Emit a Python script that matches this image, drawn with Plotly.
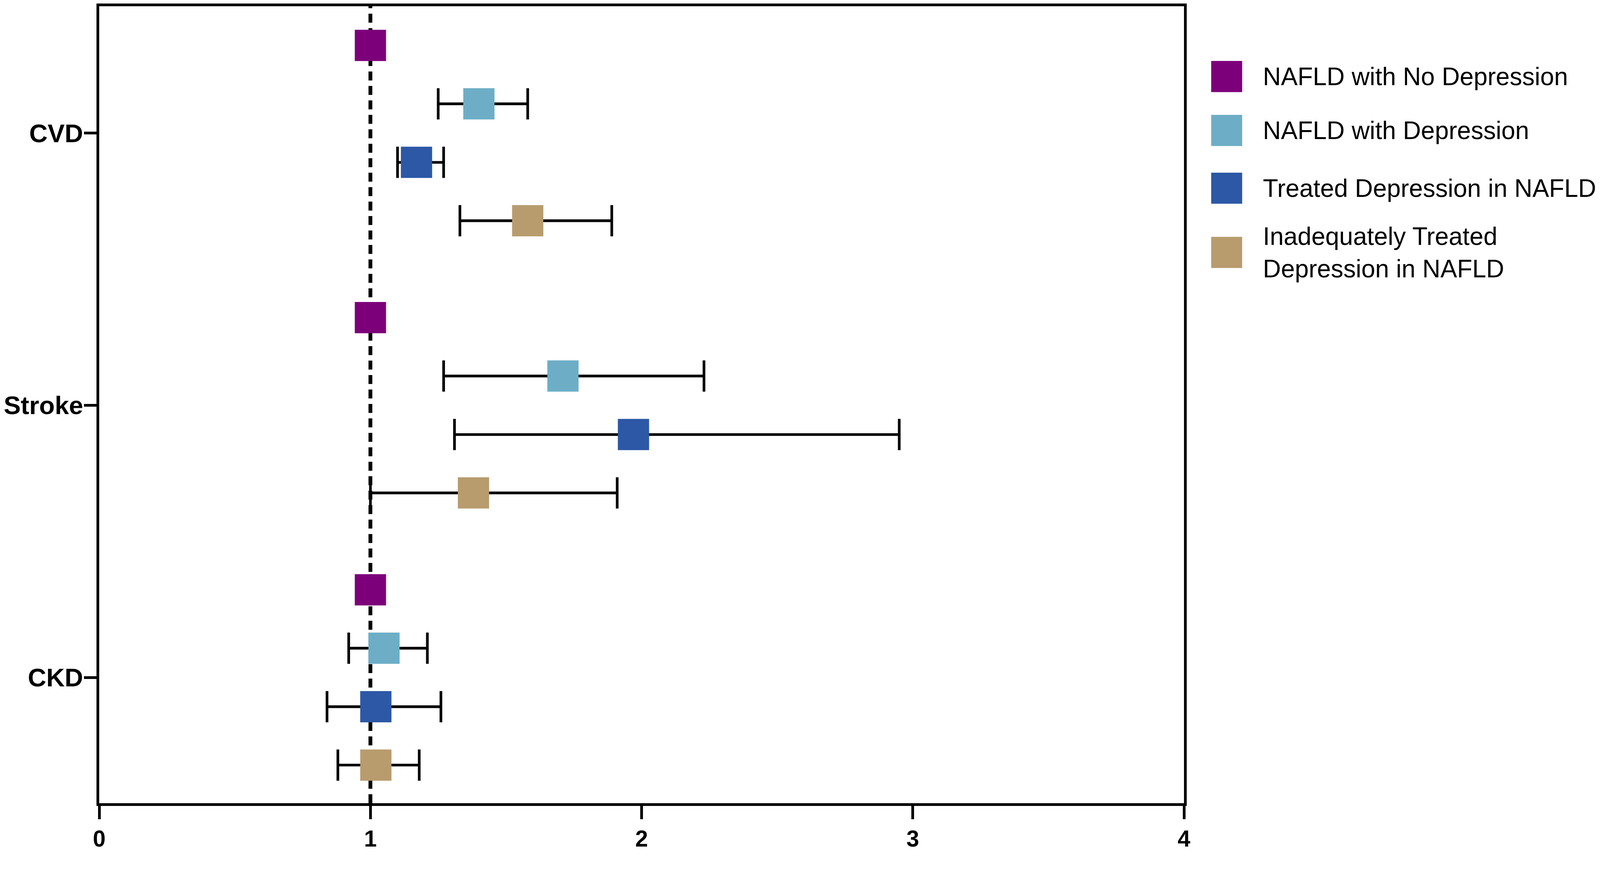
import plotly.graph_objects as go

# outcomes (top to bottom) and groups
outcomes = ["CVD", "Stroke", "CKD"]
groups = [
    "NAFLD with No Depression",
    "NAFLD with Depression",
    "Treated Depression in NAFLD",
    "Inadequately Treated<br>Depression in NAFLD",
]
colors = ["#7d007b", "#6daec6", "#2c58a6", "#b89c6e"]

# hazard ratio and 95% CI per group, one value per outcome (CVD, Stroke, CKD)
hr_no_dep = [1.00, 1.00, 1.00]
lo_no_dep = [1.00, 1.00, 1.00]
hi_no_dep = [1.00, 1.00, 1.00]

hr_dep = [1.40, 1.71, 1.05]
lo_dep = [1.25, 1.27, 0.92]
hi_dep = [1.58, 2.23, 1.21]

hr_treated = [1.17, 1.97, 1.02]
lo_treated = [1.10, 1.31, 0.84]
hi_treated = [1.27, 2.95, 1.26]

hr_inadeq = [1.58, 1.38, 1.02]
lo_inadeq = [1.33, 1.00, 0.88]
hi_inadeq = [1.89, 1.91, 1.18]

hrs = [hr_no_dep, hr_dep, hr_treated, hr_inadeq]
los = [lo_no_dep, lo_dep, lo_treated, lo_inadeq]
his = [hi_no_dep, hi_dep, hi_treated, hi_inadeq]

x_ticks = [0, 1, 2, 3, 4]

# vertical offset of each group inside an outcome row
offsets = [-0.322, -0.1075, 0.1075, 0.322]

# page is shown slightly enlarged, so everything is sized down a little
S = 0.9754
W, H = round(4200 * S), round(2227 * S)
L, T = 259 * S - 31, 1
PW, PH = 2848 * S + 23, 2098 * S + 3
R, B = W - L - PW, H - T - PH
FONT = "Liberation Sans, Arial, sans-serif"


def px_x(v):
    # horizontal position (reference pixels) -> paper units
    return (v * S - 8 - L) / PW


fig = go.Figure()
for g in range(len(groups)):
    ys = [i + offsets[g] for i in range(len(outcomes))]
    fig.add_trace(go.Scatter(
        x=hrs[g], y=ys, mode="markers",
        name=groups[g],
        marker=dict(symbol="square", size=82 * S, color=colors[g], line=dict(width=0)),
        error_x=dict(type="data", symmetric=False,
                     array=[h - m for h, m in zip(his[g], hrs[g])],
                     arrayminus=[m - l for m, l in zip(hrs[g], los[g])],
                     color="black", thickness=7 * S, width=41 * S),
        showlegend=False,
    ))

# reference line at HR = 1
fig.add_shape(type="line", xref="x", yref="paper", x0=1, x1=1, y0=0, y1=1,
              line=dict(color="black", width=10 * S, dash="23px,14px"), layer="below")

# legend drawn by hand so the swatches can be large squares
leg_y = [194, 336, 488, 657]
for g in range(len(groups)):
    yc = (2107 - leg_y[g]) / 2098
    fig.add_shape(type="rect", xref="paper", yref="paper",
                  x0=px_x(3179), x1=px_x(3261),
                  y0=yc - 41 / 2098, y1=yc + 41 / 2098,
                  fillcolor=colors[g], line=dict(width=0))
    fig.add_annotation(xref="paper", yref="paper", x=px_x(3314), y=yc,
                       text=groups[g], showarrow=False, xanchor="left",
                       yanchor="middle", align="left",
                       font=dict(family=FONT, size=65.5 * S, color="black"))

axis_common = dict(showline=True, linecolor="black", linewidth=7 * S, mirror=True,
                   ticks="outside", tickwidth=7 * S, tickcolor="black",
                   showgrid=False, zeroline=False)

fig.update_layout(
    width=W, height=H,
    margin=dict(l=L, r=R, t=T, b=B),
    paper_bgcolor="white", plot_bgcolor="white",
    xaxis=dict(range=[0, 4], tickvals=x_ticks, ticklen=35 * S,
               tickfont=dict(family=FONT, size=60 * S, color="black", weight="bold"),
               **axis_common),
    yaxis=dict(range=[2.462, -0.466], tickvals=list(range(len(outcomes))),
               ticktext=outcomes, ticklen=33 * S, ticklabelstandoff=-11,
               tickfont=dict(family=FONT, size=67 * S, color="black", weight="bold"),
               **axis_common),
)

fig.write_html("out.html")
